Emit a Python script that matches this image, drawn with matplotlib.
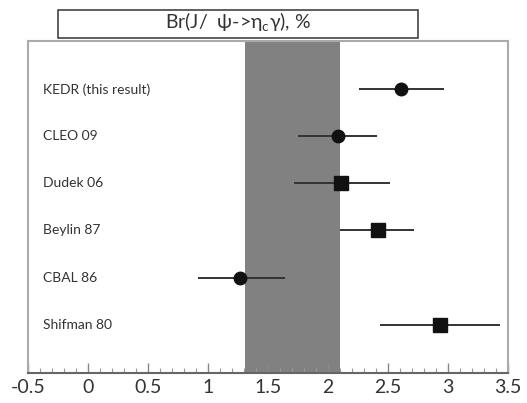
import matplotlib.pyplot as plt
import matplotlib.patches as patches
from matplotlib.ticker import MultipleLocator

# measurements of Br(J/psi -> eta_c gamma), %
names = ['KEDR (this result)', 'CLEO 09', 'Dudek 06', 'Beylin 87', 'CBAL 86', 'Shifman 80']
values = [2.61, 2.08, 2.11, 2.42, 1.27, 2.93]
err_lo = [0.35, 0.33, 0.39, 0.32, 0.35, 0.50]
err_hi = [0.36, 0.33, 0.41, 0.30, 0.37, 0.50]
markers = ['o', 'o', 's', 's', 'o', 's']
band = (1.31, 2.10)

plt.rcParams['font.family'] = ['Lato', 'DejaVu Sans']

fig = plt.figure(figsize=(5.27, 4.03), dpi=100)
ax = fig.add_axes([0.0531, 0.0744, 0.911, 0.824])

ax.axvspan(band[0], band[1], color='#818181', lw=0, zorder=1)

n = len(names)
for i, name in enumerate(names):
    y = n - i
    ax.errorbar(values[i], y, xerr=[[err_lo[i]], [err_hi[i]]], fmt=markers[i],
                color='#111111', ecolor='#333333', elinewidth=1.4, capsize=0,
                markersize=9 if markers[i] == 'o' else 9.5, zorder=3)
    ax.text(-0.375, y, name, fontsize=10, color='#333333', va='center', ha='left')

ax.set_xlim(-0.5, 3.5)
ax.set_ylim(-0.03, 7.03)
ax.xaxis.set_major_locator(MultipleLocator(0.5))
ax.xaxis.set_minor_locator(MultipleLocator(0.1))
ax.xaxis.set_major_formatter(plt.FuncFormatter(lambda v, p: '{:g}'.format(v)))
ax.tick_params(axis='x', which='major', direction='in', length=7, width=1,
               color='#888888', labelsize=14, labelcolor='#333333', pad=4)
ax.tick_params(axis='x', which='minor', direction='in', length=3.5, width=0.8, color='#999999')
ax.set_yticks([])
for s in ['left', 'right', 'top']:
    ax.spines[s].set_color('#aaaaaa')
    ax.spines[s].set_linewidth(1.5)
ax.spines['bottom'].set_color('#666666')
ax.spines['bottom'].set_linewidth(1.5)

# title box above the plot
box = patches.Rectangle((58 / 527, 1 - 38 / 403), 360 / 527, 28 / 403,
                        transform=fig.transFigure, facecolor='white',
                        edgecolor='#444444', linewidth=1.2)
fig.patches.append(box)
fig.text(238 / 527, 1 - 22 / 403, r'Br(J/  ψ->η$_\mathregular{c}$γ), %', fontsize=14,
         ha='center', va='center', color='#333333')

fig.savefig('out.png', dpi=100)
